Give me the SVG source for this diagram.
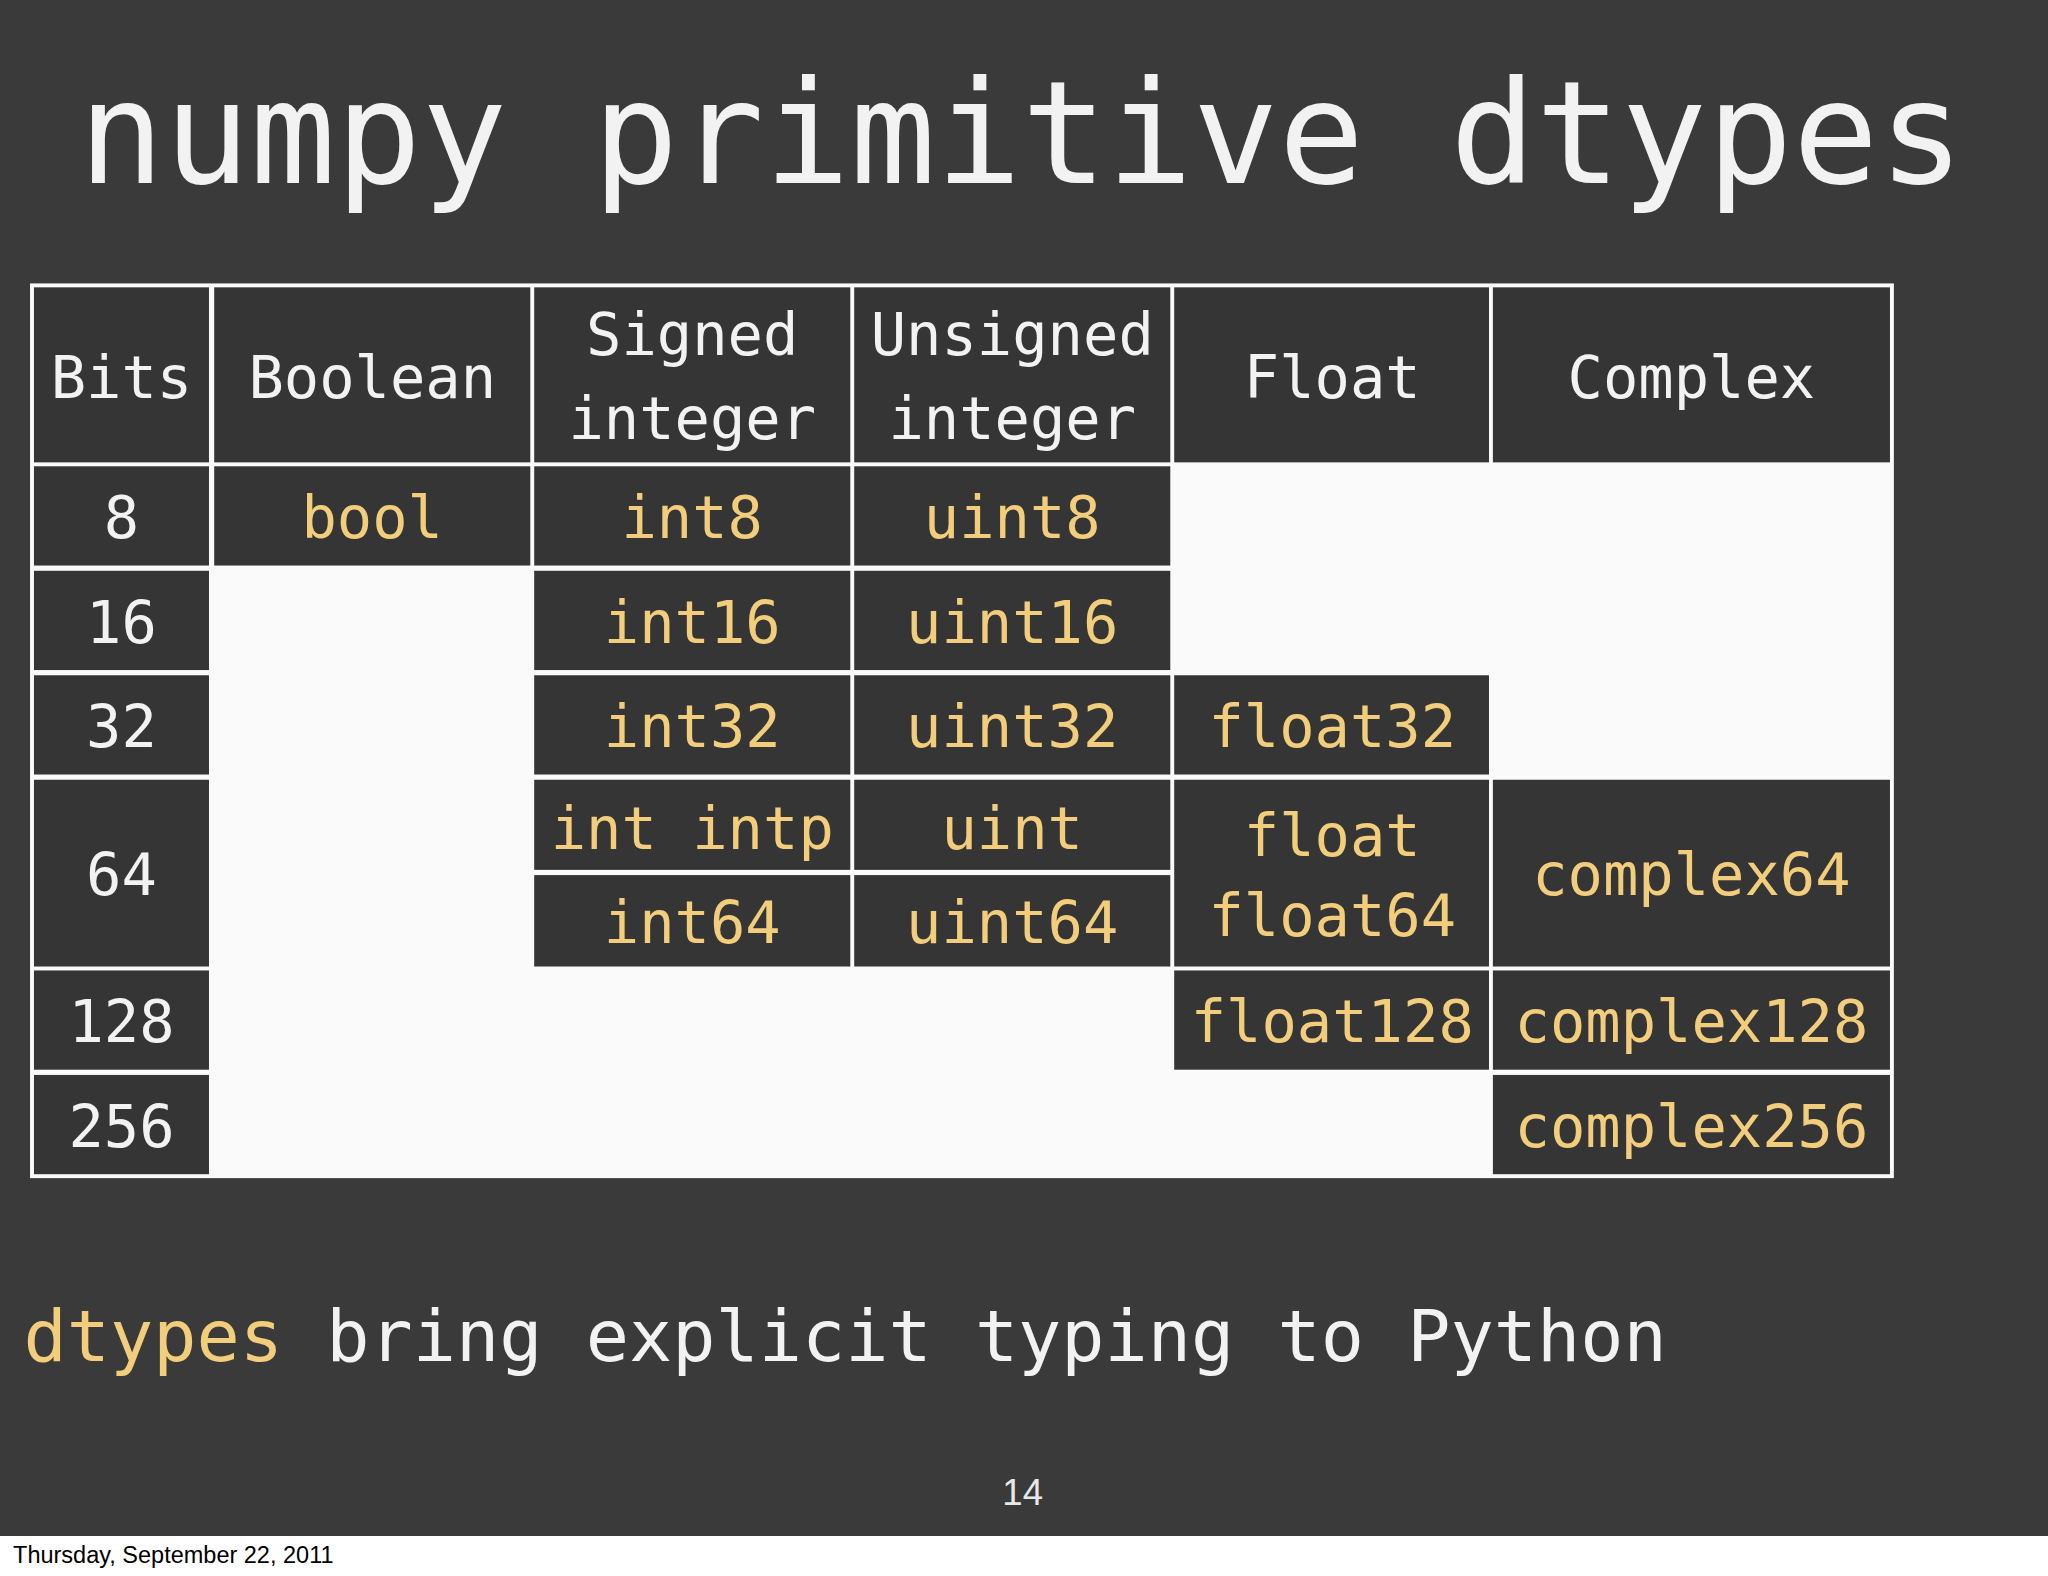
<svg xmlns="http://www.w3.org/2000/svg" width="2048" height="1576" viewBox="0 0 2048 1576">
<style>
.c{fill:#353535}
.w{fill:#f2f2f2;font-family:"DejaVu Sans Mono",monospace;font-size:45px;text-anchor:middle}
.y{fill:#f1cd7c;font-family:"DejaVu Sans Mono",monospace;font-size:45px;text-anchor:middle}
</style>
<rect width="2048" height="1576" fill="#fff"/>
<g transform="scale(1.30612)">
<rect width="1568" height="1176" fill="#3a3a3a"/>
<text x="782" y="140" class="w" style="font-size:109px">numpy primitive dtypes</text>
<g id="table">
<rect x="23" y="217" width="1427" height="685" fill="#fafafa"/>
<g id="cells">
<rect class="c" x="26" y="220" width="134" height="134"/>
<rect class="c" x="164" y="220" width="242" height="134"/>
<rect class="c" x="409" y="220" width="242" height="134"/>
<rect class="c" x="654" y="220" width="242" height="134"/>
<rect class="c" x="899" y="220" width="241" height="134"/>
<rect class="c" x="1143" y="220" width="304" height="134"/>
<rect class="c" x="26" y="357" width="134" height="76"/>
<rect class="c" x="164" y="357" width="242" height="76"/>
<rect class="c" x="409" y="357" width="242" height="76"/>
<rect class="c" x="654" y="357" width="242" height="76"/>
<rect class="c" x="26" y="437" width="134" height="76"/>
<rect class="c" x="409" y="437" width="242" height="76"/>
<rect class="c" x="654" y="437" width="242" height="76"/>
<rect class="c" x="26" y="517" width="134" height="76"/>
<rect class="c" x="409" y="517" width="242" height="76"/>
<rect class="c" x="654" y="517" width="242" height="76"/>
<rect class="c" x="899" y="517" width="241" height="76"/>
<rect class="c" x="26" y="597" width="134" height="143"/>
<rect class="c" x="409" y="597" width="242" height="69"/>
<rect class="c" x="654" y="597" width="242" height="69"/>
<rect class="c" x="409" y="670" width="242" height="70"/>
<rect class="c" x="654" y="670" width="242" height="70"/>
<rect class="c" x="899" y="597" width="241" height="143"/>
<rect class="c" x="1143" y="597" width="304" height="143"/>
<rect class="c" x="26" y="743" width="134" height="76"/>
<rect class="c" x="899" y="743" width="241" height="76"/>
<rect class="c" x="1143" y="743" width="304" height="76"/>
<rect class="c" x="26" y="823" width="134" height="76"/>
<rect class="c" x="1143" y="823" width="304" height="76"/>
</g>
<g id="labels">
<text class="w" x="93" y="305">Bits</text>
<text class="w" x="285" y="305">Boolean</text>
<text class="w" x="530" y="272">Signed</text>
<text class="w" x="530" y="336">integer</text>
<text class="w" x="775" y="272">Unsigned</text>
<text class="w" x="775" y="336">integer</text>
<text class="w" x="1020" y="305">Float</text>
<text class="w" x="1295" y="305">Complex</text>
<text class="w" x="93" y="412">8</text>
<text class="w" x="93" y="492">16</text>
<text class="w" x="93" y="572">32</text>
<text class="w" x="93" y="685">64</text>
<text class="w" x="93" y="798">128</text>
<text class="w" x="93" y="878">256</text>
<text class="y" x="285" y="412">bool</text>
<text class="y" x="530" y="412">int8</text>
<text class="y" x="775" y="412">uint8</text>
<text class="y" x="530" y="492">int16</text>
<text class="y" x="775" y="492">uint16</text>
<text class="y" x="530" y="572">int32</text>
<text class="y" x="775" y="572">uint32</text>
<text class="y" x="1020" y="572">float32</text>
<text class="y" x="530" y="650">int intp</text>
<text class="y" x="775" y="650">uint</text>
<text class="y" x="530" y="722">int64</text>
<text class="y" x="775" y="722">uint64</text>
<text class="y" x="1020" y="655">float</text>
<text class="y" x="1020" y="717">float64</text>
<text class="y" x="1295" y="685">complex64</text>
<text class="y" x="1020" y="798">float128</text>
<text class="y" x="1295" y="798">complex128</text>
<text class="y" x="1295" y="878">complex256</text>
</g>
</g>
<text x="18" y="1042" style="font-family:'DejaVu Sans Mono',monospace;font-size:55px" fill="#f2f2f2"><tspan fill="#f1cd7c">dtypes</tspan> bring explicit typing to Python</text>
<text x="783" y="1152" style="font-family:'Liberation Sans',sans-serif;font-size:28px;text-anchor:middle" fill="#e8e8e8">14</text>
<text x="10" y="1197" style="font-family:'Liberation Sans',sans-serif;font-size:18px" fill="#000">Thursday, September 22, 2011</text>
</g>
</svg>
